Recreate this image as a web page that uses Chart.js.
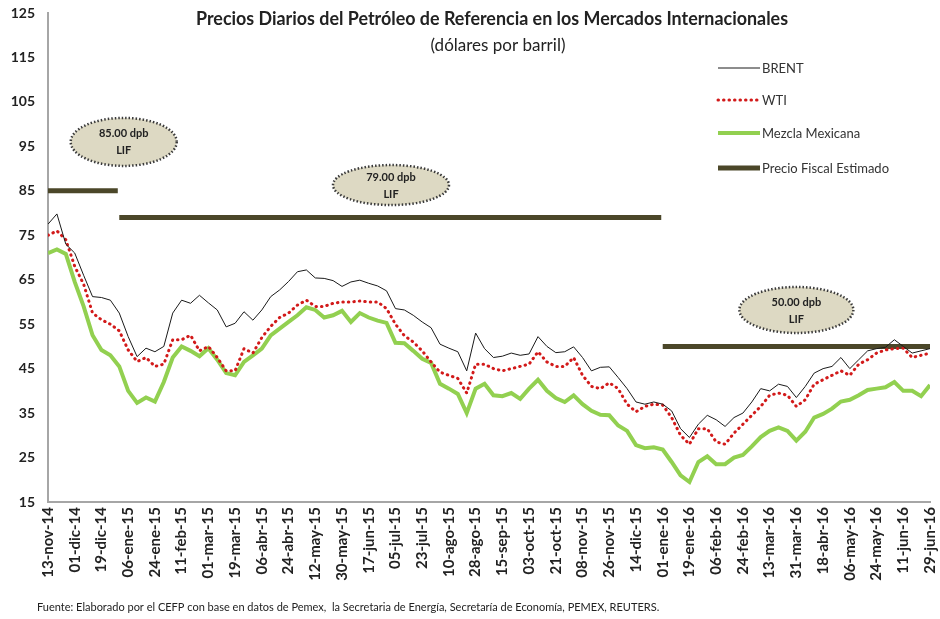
<!DOCTYPE html>
<html>
<head>
    <meta charset="utf-8">
    <title>Precios Diarios del Petróleo de Referencia</title>
    <script src="https://cdn.jsdelivr.net/npm/chart.js"></script>
    <style>
        body { margin: 0; background: #fff; }
        #wrap { width: 940px; height: 619px; }
    </style>
</head>
<body>
    <div id="wrap">
        <canvas id="oilChart" width="940" height="619"></canvas>
    </div>

    <script>
        // eje x: dias desde 13-nov-14, una muestra cada 6 dias, etiqueta cada 18
        const tickLabels = ['13-nov-14', '01-dic-14', '19-dic-14', '06-ene-15', '24-ene-15', '11-feb-15',
            '01-mar-15', '19-mar-15', '06-abr-15', '24-abr-15', '12-may-15', '30-may-15', '17-jun-15',
            '05-jul-15', '23-jul-15', '10-ago-15', '28-ago-15', '15-sep-15', '03-oct-15', '21-oct-15',
            '08-nov-15', '26-nov-15', '14-dic-15', '01-ene-16', '19-ene-16', '06-feb-16', '24-feb-16',
            '13-mar-16', '31-mar-16', '18-abr-16', '06-may-16', '24-may-16', '11-jun-16', '29-jun-16'];
        const sampleDays = 6;
        const labelDays = 18;

        const brent = [77.5, 79.8, 73, 71, 66, 61.2, 61, 60.4, 57.5, 52.2,
            47.7, 49.6, 48.8, 50, 57.5, 60.4, 59.7, 61.5, 59.8, 58.2,
            54.4, 55.2, 57.8, 55.9, 58.2, 61.2, 62.7, 64.6, 66.8, 67.2,
            65.4, 65.3, 64.8, 63.5, 64.5, 64.9, 64.2, 63.6, 62.5, 58.5,
            58.2, 57, 55.5, 54.2, 50.5, 49.6, 48.8, 44.5, 53, 49.5,
            47.5, 47.8, 48.5, 48, 48.3, 52.2, 50, 48.6, 48.8, 49.9,
            47.5, 44.5, 45.3, 45.4, 43, 40.5, 37.5, 37, 37.5, 37,
            35.5, 31.5, 29.5, 32.5, 34.5, 33.5, 32, 34, 35, 37.5,
            40.5, 40, 41.5, 41, 38.5, 41, 44, 45, 45.5, 47.5,
            45, 47, 49, 49.5, 49.8, 51.5, 50, 48.5, 49, 49.5];

        const wti = [75, 76, 74, 68, 64, 57.5, 56, 55, 53.5, 49.2,
            46.6, 47.5, 45.5, 46, 51.5, 51.5, 52.5, 49, 50, 47.5,
            44.5, 44.5, 49.5, 48.5, 52, 54.5, 56.5, 57.5, 59.3, 60.4,
            59, 59, 59.7, 60, 60, 60.2, 60, 60, 58.5, 55,
            52.4, 51, 49, 46.5, 44.2, 43.5, 42.8, 39.5, 46, 46,
            45, 44.5, 45, 45.5, 46, 48.8, 46.5, 45.5, 45.5, 47.5,
            43.5, 41, 40.5, 41.8, 40.5, 37, 35.3, 36.5, 37, 36.8,
            34, 30, 28, 31.5, 31.5, 28.5, 28, 30.5, 32.5, 34.5,
            36.5, 39, 39.5, 39, 36.5, 38, 41.5, 42.5, 43.5, 44.5,
            43.5, 46, 47, 48.5, 49.2, 49.5, 49.6, 47.5, 48, 48.5];

        const mezcla = [71, 71.8, 70.8, 64.5, 59, 52.5, 49.2, 48, 45.5, 40,
            37.3, 38.5, 37.6, 42, 47.5, 50, 49, 47.8, 49.6, 47,
            44, 43.5, 46.5, 48, 49.5, 52.5, 54, 55.5, 57, 58.8,
            58.2, 56.5, 57, 58, 55.5, 57.5, 56.5, 55.8, 55.3, 50.8,
            50.7, 49, 47.2, 46.3, 41.6, 40.5, 39.3, 35, 40.5, 41.6,
            39, 38.8, 39.5, 38.2, 40.5, 42.5, 40, 38.4, 37.5, 39,
            37, 35.5, 34.6, 34.5, 32.2, 31, 27.8, 27.1, 27.3, 26.8,
            24, 21, 19.5, 24, 25.3, 23.5, 23.5, 25, 25.6, 27.5,
            29.6, 31, 31.8, 31, 28.8, 30.8, 34, 34.8, 36, 37.6,
            38, 39, 40.2, 40.5, 40.8, 42, 40, 40, 38.8, 41.3];

        // precio fiscal estimado (LIF): valor y tramo en dias
        const fiscalPrices = [85, 79, 50];
        const fiscalFrom = [0, 48, 414];
        const fiscalTo = [47, 413, 594];
        const fiscalNotes = ['85.00 dpb', '79.00 dpb', '50.00 dpb'];

        const toPoints = arr => arr.map((v, i) => ({ x: i * sampleDays, y: v }));

        const fiscalColor = '#4b4729';
        const datasets = [
            { label: 'BRENT', data: toPoints(brent), borderColor: '#1a1a1a', borderWidth: 1, order: 0 },
            { label: 'WTI', data: toPoints(wti), borderColor: '#d21a1a', borderWidth: 3,
              borderDash: [0.5, 5], borderCapStyle: 'round', order: 1 },
            { label: 'Mezcla Mexicana', data: toPoints(mezcla), borderColor: '#92d050', borderWidth: 4, order: 2 }
        ];
        fiscalPrices.forEach((p, i) => {
            datasets.push({
                label: 'Precio Fiscal Estimado',
                data: [{ x: fiscalFrom[i], y: p }, { x: fiscalTo[i], y: p }],
                borderColor: fiscalColor, borderWidth: 5, order: 3
            });
        });

        const legendItems = [
            { text: 'BRENT', color: '#1a1a1a', width: 1, dash: [] },
            { text: 'WTI', color: '#d21a1a', width: 3, dash: [0.5, 5] },
            { text: 'Mezcla Mexicana', color: '#92d050', width: 4, dash: [] },
            { text: 'Precio Fiscal Estimado', color: fiscalColor, width: 5, dash: [] }
        ];

        // ovalos con el precio de la LIF (centro en coordenadas de datos)
        const noteCenters = [{ x: 51, y: 96 }, { x: 231, y: 86.3 }, { x: 504, y: 58.2 }];
        const noteSize = [{ rx: 53, ry: 24 }, { rx: 58, ry: 20 }, { rx: 57, ry: 23 }];

        const decorPlugin = {
            id: 'decor',
            afterDatasetsDraw(chart) {
                const ctx = chart.ctx;
                const xs = chart.scales.x, ys = chart.scales.y;
                ctx.save();
                noteCenters.forEach((c, i) => {
                    const cx = xs.getPixelForValue(c.x), cy = ys.getPixelForValue(c.y);
                    ctx.beginPath();
                    ctx.ellipse(cx, cy, noteSize[i].rx, noteSize[i].ry, 0, 0, Math.PI * 2);
                    ctx.fillStyle = '#ddd9c3';
                    ctx.fill();
                    ctx.setLineDash([1.5, 2]);
                    ctx.lineWidth = 2.5;
                    ctx.strokeStyle = '#3a3a3a';
                    ctx.stroke();
                    ctx.setLineDash([]);
                    ctx.fillStyle = '#222';
                    ctx.font = 'bold 11px Lato';
                    ctx.textAlign = 'center';
                    ctx.textBaseline = 'middle';
                    ctx.fillText(fiscalNotes[i], cx, cy - 8);
                    ctx.fillText('LIF', cx, cy + 9);
                });
                ctx.restore();
            },
            afterDraw(chart) {
                const ctx = chart.ctx;
                ctx.save();
                ctx.fillStyle = '#222';
                ctx.textAlign = 'center';
                ctx.textBaseline = 'middle';
                ctx.font = 'bold 18px Lato';
                ctx.fillText('Precios Diarios del Petróleo de Referencia en los Mercados Internacionales', 492, 19, 592);
                ctx.font = '17px Lato';
                ctx.fillText('(dólares por barril)', 498, 46, 150);

                ctx.textAlign = 'left';
                ctx.font = '13px Lato';
                const rows = [68, 100, 133, 168];
                legendItems.forEach((it, i) => {
                    ctx.beginPath();
                    ctx.setLineDash(it.dash);
                    ctx.lineCap = it.dash.length ? 'round' : 'butt';
                    ctx.lineWidth = it.width;
                    ctx.strokeStyle = it.color;
                    ctx.moveTo(718, rows[i]);
                    ctx.lineTo(760, rows[i]);
                    ctx.stroke();
                    ctx.setLineDash([]);
                    ctx.fillStyle = '#333';
                    ctx.fillText(it.text, 762, rows[i] + 1);
                });

                ctx.font = '11px Lato';
                ctx.fillStyle = '#222';
                ctx.fillText('Fuente: Elaborado por el CEFP con base en datos de Pemex,  la Secretaria de Energía, Secretaría de Economía, PEMEX, REUTERS.', 37, 607, 626);
                ctx.restore();
            }
        };

        new Chart(document.getElementById('oilChart'), {
            type: 'line',
            data: { datasets: datasets },
            plugins: [decorPlugin],
            options: {
                responsive: false,
                animation: false,
                layout: { padding: { top: 13, right: 10, left: 0, bottom: 0 } },
                elements: { point: { radius: 0 }, line: { tension: 0 } },
                plugins: { legend: { display: false }, tooltip: { enabled: false } },
                scales: {
                    x: {
                        type: 'linear',
                        min: 0,
                        max: (tickLabels.length - 1) * labelDays,
                        grid: { display: true, drawOnChartArea: false, drawTicks: false },
                        border: { display: true, color: '#a6a6a6', width: 2 },
                        afterFit: s => { s.height = 117; s.paddingLeft = 0; s.paddingRight = 0; },
                        ticks: {
                            stepSize: labelDays,
                            autoSkip: false,
                            minRotation: 90,
                            maxRotation: 90,
                            padding: 5,
                            color: '#222',
                            font: { family: 'Lato', size: 15, weight: 'bold' },
                            callback: v => tickLabels[Math.round(v / labelDays)]
                        }
                    },
                    y: {
                        min: 15,
                        max: 125,
                        grid: { display: true, drawOnChartArea: false, drawTicks: false },
                        border: { display: true, color: '#a6a6a6', width: 2 },
                        afterFit: s => { s.width = 48; s.paddingTop = 0; s.paddingBottom = 0; },
                        ticks: {
                            stepSize: 10,
                            padding: 13,
                            color: '#222',
                            font: { family: 'Lato', size: 14, weight: 'bold' }
                        }
                    }
                }
            }
        });
    </script>
</body>
</html>
